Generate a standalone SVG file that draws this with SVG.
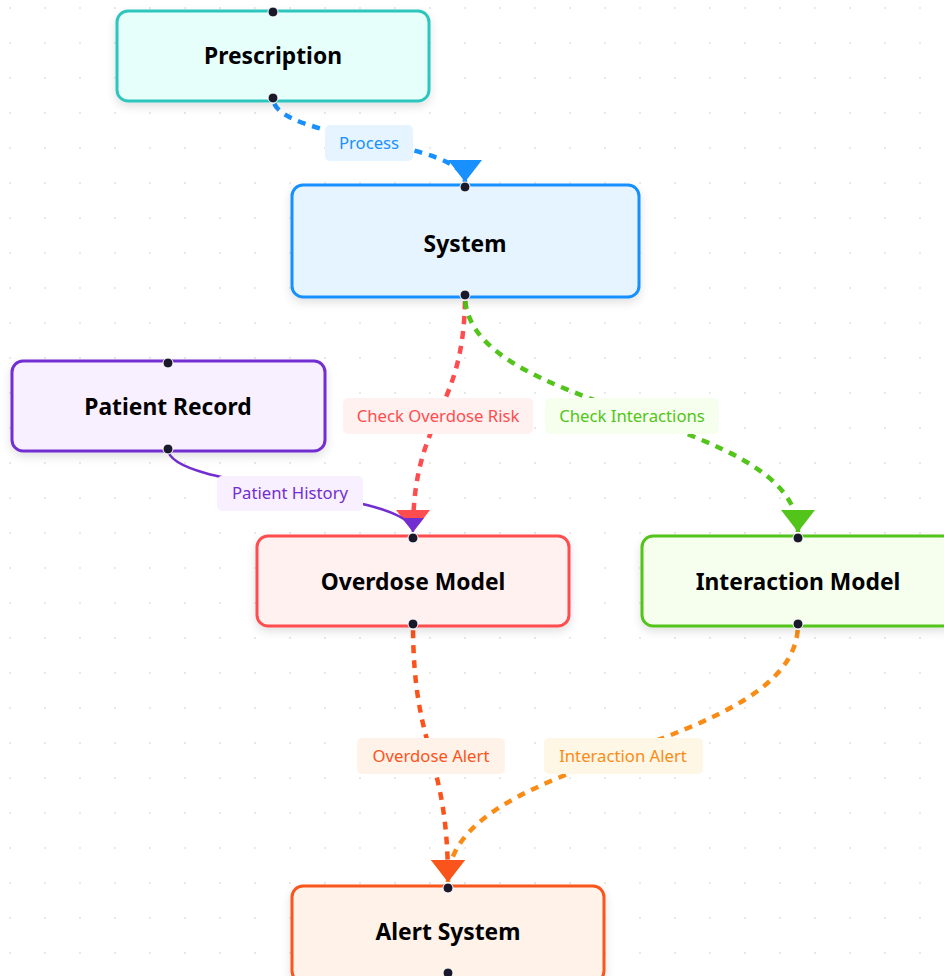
<svg xmlns="http://www.w3.org/2000/svg" width="944" height="976" viewBox="0 0 944 976">
  <defs>
    <pattern id="dots" x="10" y="8" width="35" height="35" patternUnits="userSpaceOnUse">
      <circle cx="0" cy="0" r="1" fill="#e2e2e2"/>
      <circle cx="35" cy="0" r="1" fill="#e2e2e2"/>
      <circle cx="0" cy="35" r="1" fill="#e2e2e2"/>
      <circle cx="35" cy="35" r="1" fill="#e2e2e2"/>
    </pattern>
    <filter id="shadow" x="-20%" y="-30%" width="140%" height="170%">
      <feDropShadow dx="0" dy="4" stdDeviation="5" flood-color="#000" flood-opacity="0.12"/>
    </filter>
    <!-- closed arrowheads; the tip sits on the end of the path -->
    <marker id="arr-blue" markerUnits="userSpaceOnUse" viewBox="0 0 22 34" markerWidth="22" markerHeight="34" refX="22" refY="17" orient="auto">
      <polygon points="0,0 22,17 0,34" fill="#1890ff"/>
    </marker>
    <marker id="arr-red" markerUnits="userSpaceOnUse" viewBox="0 0 22 34" markerWidth="22" markerHeight="34" refX="22" refY="17" orient="auto">
      <polygon points="0,0 22,17 0,34" fill="#ff4d4f"/>
    </marker>
    <marker id="arr-green" markerUnits="userSpaceOnUse" viewBox="0 0 22 34" markerWidth="22" markerHeight="34" refX="22" refY="17" orient="auto">
      <polygon points="0,0 22,17 0,34" fill="#52c41a"/>
    </marker>
    <marker id="arr-volcano" markerUnits="userSpaceOnUse" viewBox="0 0 22 34" markerWidth="22" markerHeight="34" refX="22" refY="17" orient="auto">
      <polygon points="0,0 22,17 0,34" fill="#fa541c"/>
    </marker>
    <marker id="arr-orange" markerUnits="userSpaceOnUse" viewBox="0 0 22 34" markerWidth="22" markerHeight="34" refX="22" refY="17" orient="auto">
      <polygon points="0,0 22,17 0,34" fill="#fa8c16"/>
    </marker>
    <marker id="arr-purple" markerUnits="userSpaceOnUse" viewBox="0 0 14 22" markerWidth="14" markerHeight="22" refX="14" refY="11" orient="auto">
      <polygon points="0,0 14,11 0,22" fill="#722ed1"/>
    </marker>
  </defs>
  <style>
    .node rect { stroke-width: 3; filter: url(#shadow); }
    .title { font-family: "Noto Sans", "Open Sans", sans-serif; font-weight: 700; font-size: 22.8px; fill: #000; text-anchor: middle; }
    .handle { fill: #1a192b; stroke: #fff; stroke-width: 1; }
    .edge { fill: none; stroke-width: 4.5; stroke-dasharray: 8 7; stroke-dashoffset: -6; }
    .lbl-bg { stroke: none; }
    .lbl { font-family: "Noto Sans", "Open Sans", sans-serif; font-size: 16.7px; text-anchor: middle; }
  </style>

  <rect width="944" height="976" fill="#ffffff"/>
  <rect width="944" height="976" fill="url(#dots)"/>

  <!-- connectors -->
  <g id="edges">
    <path class="edge" stroke="#1890ff" d="M273,98 C273,140 465,140 465,182" marker-end="url(#arr-blue)"/>
    <path class="edge" stroke="#ff4d4f" d="M465,295 C465,413.5 413,413.5 413,532" marker-end="url(#arr-red)"/>
    <path class="edge" stroke="#52c41a" d="M465,295 C465,413.5 798,413.5 798,532" marker-end="url(#arr-green)"/>
    <path fill="none" stroke="#722ed1" stroke-width="2.5" d="M168,449 C168,490 413,490 413,532" marker-end="url(#arr-purple)"/>
    <path class="edge" stroke="#fa8c16" d="M798,624 C798,753 448,753 448,882" marker-end="url(#arr-orange)"/>
    <path class="edge" stroke="#fa541c" d="M413,624 C413,753 448,753 448,882" marker-end="url(#arr-volcano)"/>

    <!-- edge labels -->
    <rect class="lbl-bg" x="325" y="125" width="88" height="36" rx="5" fill="#e6f4ff"/>
    <text class="lbl" x="369" y="149" fill="#1890ff">Process</text>

    <rect class="lbl-bg" x="343" y="398" width="190" height="36" rx="5" fill="#fff1f0"/>
    <text class="lbl" x="438" y="422" fill="#ff4d4f">Check Overdose Risk</text>

    <rect class="lbl-bg" x="545" y="398" width="174" height="36" rx="5" fill="#f6ffed"/>
    <text class="lbl" x="632" y="422" fill="#52c41a">Check Interactions</text>

    <rect class="lbl-bg" x="217" y="476" width="146" height="35" rx="5" fill="#f9f0ff"/>
    <text class="lbl" x="290" y="499" fill="#722ed1">Patient History</text>

    <rect class="lbl-bg" x="357" y="738" width="148" height="36" rx="5" fill="#fff2e8"/>
    <text class="lbl" x="431" y="762" fill="#fa541c">Overdose Alert</text>

    <rect class="lbl-bg" x="544" y="738" width="159" height="36" rx="5" fill="#fff7e6"/>
    <text class="lbl" x="623" y="762" fill="#fa8c16">Interaction Alert</text>
  </g>

  <!-- nodes -->
  <g id="prescription" class="node">
    <rect x="117" y="11" width="312" height="90" rx="11" fill="#e6fffb" stroke="#2ec5be"/>
    <text class="title" x="273" y="64">Prescription</text>
    <circle class="handle" cx="273" cy="12" r="5"/>
    <circle class="handle" cx="273" cy="98" r="5"/>
  </g>

  <g id="system" class="node">
    <rect x="292" y="185" width="347" height="112" rx="11" fill="#e6f4ff" stroke="#1890ff"/>
    <text class="title" x="465" y="252">System</text>
    <circle class="handle" cx="465" cy="187" r="5"/>
    <circle class="handle" cx="465" cy="295" r="5"/>
  </g>

  <g id="patient-record" class="node">
    <rect x="12" y="361" width="313" height="90" rx="11" fill="#f9f0ff" stroke="#722ed1"/>
    <text class="title" x="168" y="415">Patient Record</text>
    <circle class="handle" cx="168" cy="363" r="5"/>
    <circle class="handle" cx="168" cy="449" r="5"/>
  </g>

  <g id="overdose-model" class="node">
    <rect x="257" y="536" width="312" height="90" rx="11" fill="#fff1f0" stroke="#ff4d4f"/>
    <text class="title" x="413" y="590">Overdose Model</text>
    <circle class="handle" cx="413" cy="538" r="5"/>
    <circle class="handle" cx="413" cy="624" r="5"/>
  </g>

  <g id="interaction-model" class="node">
    <rect x="642" y="536" width="312" height="90" rx="11" fill="#f6ffed" stroke="#52c41a"/>
    <text class="title" x="798" y="590">Interaction Model</text>
    <circle class="handle" cx="798" cy="538" r="5"/>
    <circle class="handle" cx="798" cy="624" r="5"/>
  </g>

  <g id="alert-system" class="node">
    <rect x="292" y="886" width="312" height="96" rx="11" fill="#fff2e8" stroke="#fa541c"/>
    <text class="title" x="448" y="940">Alert System</text>
    <circle class="handle" cx="448" cy="888" r="5"/>
    <circle class="handle" cx="448" cy="973" r="5"/>
  </g>
</svg>
